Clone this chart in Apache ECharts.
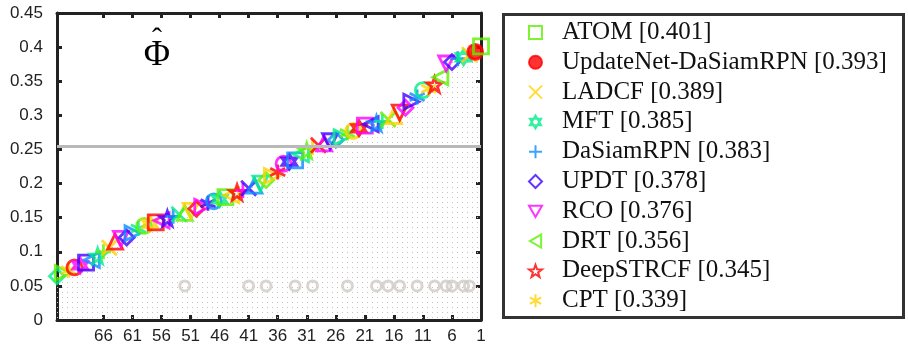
<!DOCTYPE html>
<html>
<head>
<meta charset="utf-8">
<script src="https://cdn.jsdelivr.net/npm/echarts@6/dist/echarts.min.js"></script>
<style>html,body{margin:0;padding:0;background:#fff}#c{width:908px;height:348px}</style>
</head>
<body>
<div id="c"></div>
<script>
// ---- DATA ----
const topNames = ['ATOM','UpdateNet-DaSiamRPN','LADCF','MFT','DaSiamRPN','UPDT','RCO','DRT','DeepSTRCF','CPT'];
const topScores = [0.401,0.393,0.389,0.385,0.383,0.378,0.376,0.356,0.345,0.339];
const topRanks = [1,2,3,4,5,6,7,8,9,10];
// remaining trackers, ranks 11..74
const otherScores = [0.337,0.327,0.320,0.311,0.304,0.299,0.294,0.291,0.288,0.287,
  0.285,0.281,0.277,0.274,0.268,0.264,0.262,0.259,0.256,0.253,
  0.248,0.243,0.234,0.232,0.229,0.217,0.211,0.205,0.200,0.197,
  0.193,0.190,0.187,0.183,0.180,0.177,0.174,0.171,0.166,0.163,
  0.160,0.157,0.155,0.152,0.149,0.146,0.143,0.141,0.138,0.134,
  0.127,0.121,0.119,0.115,0.106,0.100,0.094,0.088,0.084,0.080,
  0.077,0.073,0.069,0.064];
const otherRanks = otherScores.map((_, i) => i + 11);
const grayRanks = [52,41,38,33,30,24,19,17,15,12,9,7,6,4,3];
const grayValues = [0.05,0.05,0.05,0.05,0.05,0.05,0.05,0.05,0.05,0.05,0.05,0.05,0.05,0.05,0.05];
const threshold = 0.254;
const xTickLabels = [1,6,11,16,21,26,31,36,41,46,51,56,61,66];
const yTickLabels = [0,0.05,0.1,0.15,0.2,0.25,0.3,0.35,0.4,0.45];

// ---- STYLES ----
const RED='#ff0000', YEL='#ffd200', GRN='#5cf000', SPG='#00ee88', AZR='#0a8cff', VIO='#4000ff', MAG='#ff00ff';
const P = {
  x: 'path://M0,0L10,10M10,0L0,10',
  plus: 'path://M5,0L5,10M0,5L10,5',
  ast: 'path://M5,0L5,10M0.67,2.5L9.33,7.5M0.67,7.5L9.33,2.5',
  hex: 'path://M5,0L9.33,7.5L0.67,7.5ZM5,10L0.67,2.5L9.33,2.5Z',
  star: 'path://M5,0L6.18,3.38L9.76,3.45L6.9,5.62L7.94,9.05L5,7L2.06,9.05L3.1,5.62L0.24,3.45L3.82,3.38Z',
  tdown: 'path://M0,0L10,0L5,8.66Z',
  tleft: 'path://M0,5L8.66,0L8.66,10Z',
  tright: 'path://M0,0L8.66,5L0,10Z',
  tup: 'path://M5,0L10,8.66L0,8.66Z'
};
const topStyle = [
  {s:'rect', c:GRN}, {s:'circle', c:RED, fill:true}, {s:P.x, c:YEL}, {s:P.hex, c:SPG}, {s:P.plus, c:AZR},
  {s:'diamond', c:VIO}, {s:P.tdown, c:MAG}, {s:P.tleft, c:GRN}, {s:P.star, c:RED}, {s:P.ast, c:YEL}
];
const palette = [SPG, AZR, VIO, MAG, RED, YEL, GRN];
const shapes = ['circle', P.tup, 'rect', 'diamond', P.star, P.ast, P.x, P.hex, P.tdown, P.tleft, P.tright, P.plus];

const pc = document.createElement('canvas');
pc.width = 5; pc.height = 5;
const pctx = pc.getContext('2d');
pctx.fillStyle = '#c2c2c2';
pctx.fillRect(2, 2, 1, 1);

const chart = echarts.init(document.getElementById('c'), null, {renderer: 'canvas'});

const areaData = topRanks.map((r, i) => [r, topScores[i]]).concat(otherRanks.map((r, i) => [r, otherScores[i]]));

const series = [];
series.push({
  type: 'line', name: 'area', data: areaData, symbol: 'none', silent: true,
  lineStyle: {opacity: 0}, areaStyle: {color: {image: pc, repeat: 'repeat'}, opacity: 1}, z: 1,
  markLine: {silent: true, precision: 4, symbol: ['none','none'], label: {show: false},
    lineStyle: {color: '#b9b9b9', width: 3, type: 'solid'}, data: [{yAxis: threshold}]}
});
series.push({
  type: 'scatter', name: 'gray', data: grayRanks.map((r, i) => [r, grayValues[i]]),
  symbol: 'circle', symbolSize: 10, itemStyle: {color: 'rgba(0,0,0,0)', borderColor: '#cfcac6', borderWidth: 3}, z: 2
});
const otherData = [];
for (let i = otherRanks.length - 1; i >= 0; i--) {
  const c = palette[i % palette.length];
  const s = shapes[(i * 5) % shapes.length];
  otherData.push({value: [otherRanks[i], otherScores[i]], symbol: s,
    itemStyle: {color: 'rgba(0,0,0,0)', borderColor: c, borderWidth: 2.8}});
}
series.push({type: 'scatter', name: 'others', data: otherData, symbolSize: 15, z: 3});
for (let i = topNames.length - 1; i >= 0; i--) {
  const st = topStyle[i];
  series.push({
    type: 'scatter', name: topNames[i], data: [[topRanks[i], topScores[i]]],
    symbol: st.s, symbolSize: 15, z: 4,
    itemStyle: {color: st.fill ? st.c : 'rgba(0,0,0,0)', borderColor: st.c, borderWidth: 2.8}
  });
}

const axisLineStyle = {color: '#222', width: 3};
const tickStyle = {show: true, inside: true, length: 5, lineStyle: {color: '#222', width: 3}};
const labelFont = {fontFamily: 'Liberation Sans', fontSize: 17, color: '#222'};

chart.setOption({
  animation: false,
  grid: {left: 57, right: 427, top: 13, bottom: 28, containLabel: false},
  xAxis: [
    {type: 'value', position: 'bottom', min: 1, max: 74, inverse: true,
      axisLine: {show: true, onZero: false, lineStyle: axisLineStyle},
      axisTick: Object.assign({customValues: xTickLabels}, tickStyle),
      axisLabel: Object.assign({customValues: xTickLabels, margin: 8}, labelFont),
      splitLine: {show: false}},
    {type: 'value', position: 'top', min: 1, max: 74, inverse: true,
      axisLine: {show: true, onZero: false, lineStyle: axisLineStyle},
      axisTick: Object.assign({customValues: xTickLabels}, tickStyle),
      axisLabel: {show: false}, splitLine: {show: false}}
  ],
  yAxis: [
    {type: 'value', position: 'left', min: 0, max: 0.45, interval: 0.05,
      axisLine: {show: true, onZero: false, lineStyle: axisLineStyle},
      axisTick: Object.assign({customValues: yTickLabels}, tickStyle),
      axisLabel: Object.assign({customValues: yTickLabels, margin: 14, formatter: v => String(+v.toFixed(2))}, labelFont),
      splitLine: {show: false}},
    {type: 'value', position: 'right', min: 0, max: 0.45, interval: 0.05,
      axisLine: {show: true, onZero: false, lineStyle: axisLineStyle},
      axisTick: Object.assign({customValues: yTickLabels}, tickStyle),
      axisLabel: {show: false}, splitLine: {show: false}}
  ],
  legend: {
    orient: 'vertical', left: 528, top: 20, padding: 0,
    data: topNames, itemWidth: 13, itemHeight: 13, itemGap: 4.8,
    selectedMode: false,
    formatter: name => name + ' [' + topScores[topNames.indexOf(name)].toFixed(3) + ']',
    textStyle: {fontFamily: 'Liberation Serif', fontSize: 25, color: '#111', lineHeight: 25, padding: [0, 0, 0, 15]}
  },
  graphic: [
    {type: 'rect', shape: {x: 503.5, y: 14.5, width: 400, height: 303}, style: {fill: 'none', stroke: '#333', lineWidth: 3}, silent: true},
    {type: 'text', x: 157, y: 56, style: {text: 'Φ', font: '36px "Liberation Serif"', fill: '#000', textAlign: 'center', textVerticalAlign: 'middle'}, silent: true},
    {type: 'text', x: 157, y: 40, style: {text: 'ˆ', font: '30px "Liberation Serif"', fill: '#000', textAlign: 'center', textVerticalAlign: 'middle'}, silent: true}
  ],
  series: series
});
</script>
</body>
</html>
